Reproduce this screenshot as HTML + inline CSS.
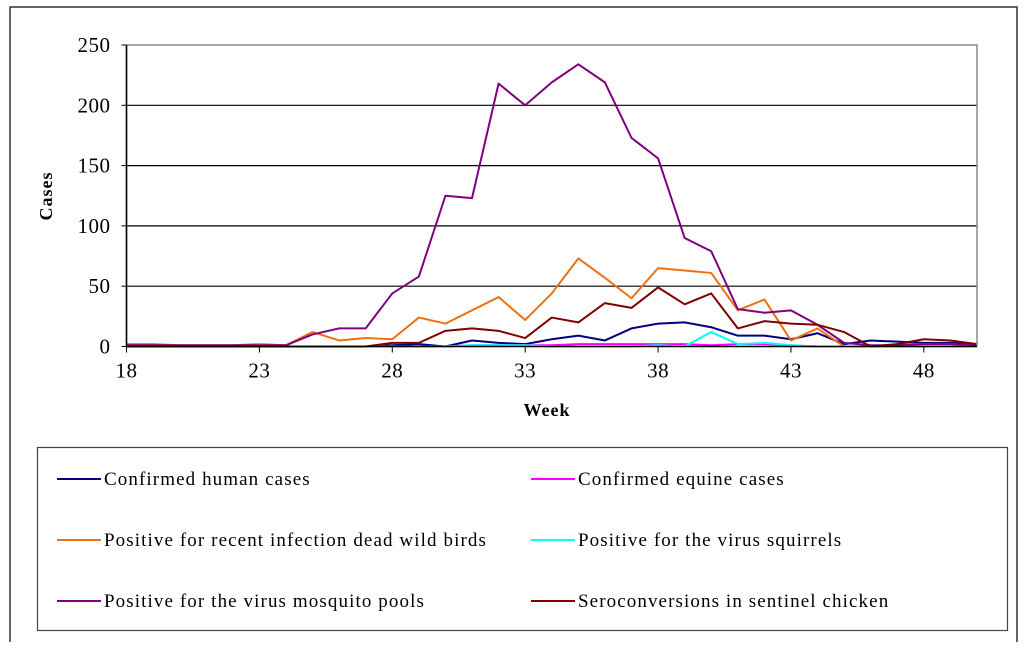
<!DOCTYPE html>
<html><head><meta charset="utf-8"><style>
body{margin:0;background:#fff;width:1024px;height:656px;overflow:hidden}
svg{display:block;font-family:"Liberation Serif",serif}
</style></head><body>
<svg id="c" width="1024" height="656" viewBox="0 0 1024 656">
<path d="M10,642 V7 H1017 V642" fill="none" stroke="#333" stroke-width="1.5"/>
<g id="grid"></g><g id="series"></g><g id="axes"></g>
<text x="52" y="196" transform="rotate(-90 52 196)" text-anchor="middle" font-size="18" font-weight="bold" letter-spacing="1">Cases</text>
<text x="547" y="416" text-anchor="middle" font-size="18" font-weight="bold" letter-spacing="1">Week</text>
<rect x="37.5" y="447.5" width="970" height="183" fill="#fff" stroke="#444" stroke-width="1.2"/>
<g id="legend"></g>
</svg>
<script>
const weeks=[18,19,20,21,22,23,24,25,26,27,28,29,30,31,32,33,34,35,36,37,38,39,40,41,42,43,44,45,46,47,48,49,50];
const human=[0,0,0,0,0,0,0,0,0,0,1,2,0,5,3,2,6,9,5,15,19,20,16,9,9,6,11,2,5,4,3,3,2];
const equine=[0,0,0,0,0,0,0,0,0,0,0,0,0,1,1,1,1,2,2,2,2,2,1,2,2,1,0,0,0,0,0,0,0];
const birds=[2,2,1,1,1,2,1,12,5,7,6,24,19,30,41,22,44,73,57,40,65,63,61,30,39,5,15,0,0,2,2,2,1];
const squirrels=[0,0,0,0,0,0,0,0,0,0,0,0,0,1,1,1,0,0,0,0,1,0,12,2,3,1,0,0,0,0,0,0,0];
const mosquito=[1,1,1,1,1,1,1,10,15,15,44,58,125,123,218,200,219,234,219,173,156,90,79,31,28,30,18,3,1,1,2,2,1];
const chicken=[0,0,0,0,0,0,0,0,0,0,3,3,13,15,13,7,24,20,36,32,49,35,44,15,21,19,18,12,0,2,6,5,2];
const yTicks=[0,50,100,150,200,250];
const xTicks=[18,23,28,33,38,43,48];
const seriesNames=["Confirmed human cases","Confirmed equine cases","Positive for recent infection dead wild birds","Positive for the virus squirrels","Positive for the virus mosquito pools","Seroconversions in sentinel chicken"];
const colors=["#000080","#ff00ff","#f07010","#00ffff","#800080","#800000"];
const keys=["human","equine","birds","squirrels","mosquito","chicken"];
const allData=[human,equine,birds,squirrels,mosquito,chicken];
const NS="http://www.w3.org/2000/svg";
const X0=126.5,X1=977,Y0=346.5,Y1=45;
const x=w=>X0+(w-18)*(X1-X0)/32;
const y=v=>Y0-v*(Y0-Y1)/250;
function mk(t,a,p){const e=document.createElementNS(NS,t);for(const k in a)e.setAttribute(k,a[k]);p.appendChild(e);return e;}
const grid=document.getElementById('grid'),axes=document.getElementById('axes'),ser=document.getElementById('series'),leg=document.getElementById('legend');
yTicks.forEach(v=>{
 if(v>0&&v<250){const l=mk('line',{x1:X0,x2:X1,y1:y(v),y2:y(v),stroke:'#000','stroke-width':1.2},grid);
 
 }
 const tk=mk('line',{x1:X0-5,x2:X0,y1:y(v),y2:y(v),stroke:'#000'},axes);
 
 
 const t=mk('text',{x:X0-16,y:y(v)+7,'text-anchor':'end','font-size':21,'letter-spacing':0.5},axes);t.textContent=v;
 
 
});
const pa=mk('path',{d:`M${X0},${Y0} V${Y1} H${X1} V${Y0}`,fill:'none',stroke:'#888','stroke-width':1.5},axes);


const xa=mk('line',{x1:X0,x2:X1,y1:Y0,y2:Y0,stroke:'#000','stroke-width':1.5},axes);


const ya=mk('line',{x1:X0,x2:X0,y1:Y0,y2:Y1,stroke:'#000','stroke-width':1.5},axes);


xTicks.forEach(w=>{
 const tk=mk('line',{x1:x(w),x2:x(w),y1:Y0,y2:Y0+6,stroke:'#000'},axes);
 
 
 const t=mk('text',{x:x(w),y:Y0+31,'text-anchor':'middle','font-size':21,'letter-spacing':0.5},axes);t.textContent=w;
 
 
});
allData.forEach((d,i)=>{
 const p=mk('polyline',{points:d.map((v,j)=>x(weeks[j])+','+y(v)).join(' '),fill:'none',stroke:colors[i],'stroke-width':2,'stroke-linejoin':'round'},ser);
 
 
});
seriesNames.forEach((n,i)=>{
 const col=i%2,row=Math.floor(i/2);
 const lx=col?531:57,ly=479+row*61;
 const g=mk('g',{},leg);
 
 
 mk('line',{x1:lx,x2:lx+44,y1:ly,y2:ly,stroke:colors[i],'stroke-width':2},g);
 const t=mk('text',{x:lx+47,y:ly+6,'font-size':19,'letter-spacing':1.1},g);t.textContent=n;
});
</script>
</body></html>
